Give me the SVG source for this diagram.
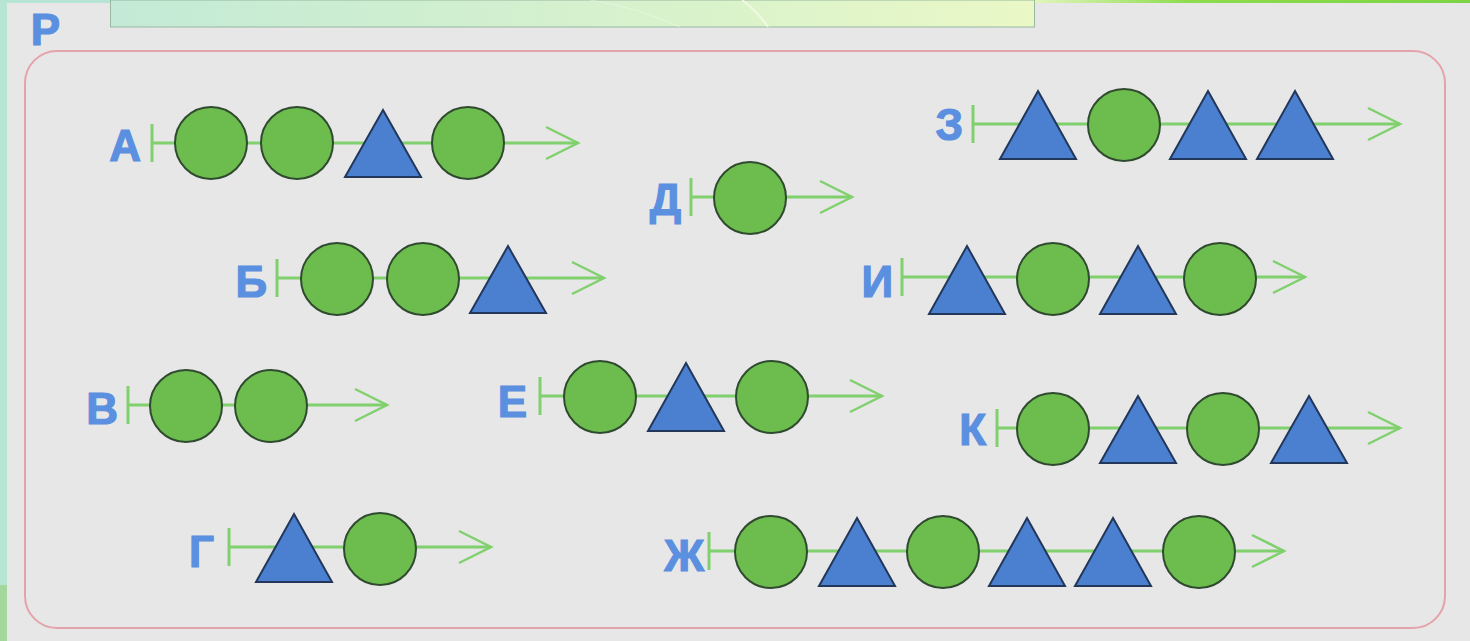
<svg xmlns="http://www.w3.org/2000/svg" width="1470" height="641" viewBox="0 0 1470 641">
<defs>
<linearGradient id="hdr" x1="0" y1="0" x2="1" y2="0">
<stop offset="0" stop-color="#c3ead6"/>
<stop offset="0.6" stop-color="#d8f2cc"/>
<stop offset="1" stop-color="#eaf8c6"/>
</linearGradient>
<linearGradient id="topr" x1="0" y1="0" x2="1" y2="0">
<stop offset="0" stop-color="#e0f5bc"/>
<stop offset="0.35" stop-color="#8edc4e"/>
<stop offset="1" stop-color="#7cd444"/>
</linearGradient>
<marker id="arrow" markerUnits="userSpaceOnUse" markerWidth="40" markerHeight="40" refX="32" refY="16" orient="auto" overflow="visible">
<path d="M0,0 L32,16 L0,32" fill="none" stroke="#80d06e" stroke-width="2.5"/>
</marker>
<marker id="tick" markerUnits="userSpaceOnUse" markerWidth="6" markerHeight="40" refX="1.5" refY="19" orient="auto" overflow="visible">
<path d="M1.5,0 V38" fill="none" stroke="#80d06e" stroke-width="3"/>
</marker>
</defs>
<style>
.lbl{font-family:"Liberation Sans",Arial,sans-serif;font-weight:bold;font-size:44px;fill:#5b8fe0;stroke:#5b8fe0;stroke-width:1.2;text-anchor:end}
.c{fill:#6dbd4e;stroke:#2f4a2f;stroke-width:2}
.t{fill:#4b7fcf;stroke:#22375a;stroke-width:2;stroke-linejoin:miter}
.ax{fill:none;stroke:#80d06e;stroke-width:3;marker-start:url(#tick);marker-end:url(#arrow)}
</style>
<!-- background -->
<rect x="0" y="0" width="1470" height="641" fill="#b6e6d3"/>
<rect x="0" y="585" width="8" height="56" fill="#a3d79c"/>
<rect x="1035" y="0" width="435" height="3" fill="url(#topr)"/>
<rect x="7" y="3" width="1463" height="638" fill="#e7e7e7"/>
<rect x="110.5" y="0" width="924" height="27" fill="url(#hdr)" stroke="#98b8a0" stroke-width="1"/>
<path d="M742,0 Q758,12 768,27" fill="none" stroke="#f4fbe8" stroke-width="2" opacity="0.8"/>
<path d="M590,0 Q640,8 680,27" fill="none" stroke="#f4fbe8" stroke-width="1" opacity="0.5"/>
<text class="lbl" x="60" y="45">Р</text>
<rect x="25" y="51" width="1420" height="577" rx="32" ry="32" fill="none" stroke="#e3a3aa" stroke-width="2"/>

<g id="connectors">
<path class="ax" d="M152,143 H578"/>
<path class="ax" d="M277,278 H604"/>
<path class="ax" d="M128,405 H387"/>
<path class="ax" d="M229,547 H491"/>
<path class="ax" d="M691,197 H852"/>
<path class="ax" d="M540,396 H882"/>
<path class="ax" d="M709,551 H1284"/>
<path class="ax" d="M973,124 H1400"/>
<path class="ax" d="M902,277 H1305"/>
<path class="ax" d="M997,428 H1400"/>
</g>

<g id="row-A">
<text class="lbl" x="141" y="161">А</text>
<circle class="c" cx="211" cy="143" r="36"/>
<circle class="c" cx="297" cy="143" r="36"/>
<polygon class="t" points="383,110 421,177 345,177"/>
<circle class="c" cx="468" cy="143" r="36"/>
</g>

<g id="row-B">
<text class="lbl" x="267" y="297">Б</text>
<circle class="c" cx="337" cy="279" r="36"/>
<circle class="c" cx="423" cy="279" r="36"/>
<polygon class="t" points="508,246 546,313 470,313"/>
</g>

<g id="row-V">
<text class="lbl" x="118" y="424">В</text>
<circle class="c" cx="186" cy="406" r="36"/>
<circle class="c" cx="271" cy="406" r="36"/>
</g>

<g id="row-G">
<text class="lbl" x="214" y="567">Г</text>
<polygon class="t" points="294,514 332,582 256,582"/>
<circle class="c" cx="380" cy="549" r="36"/>
</g>

<g id="row-D">
<text class="lbl" x="681" y="215">Д</text>
<circle class="c" cx="750" cy="198" r="36"/>
</g>

<g id="row-E">
<text class="lbl" x="527" y="417">Е</text>
<circle class="c" cx="600" cy="397" r="36"/>
<polygon class="t" points="686,363 724,431 648,431"/>
<circle class="c" cx="772" cy="397" r="36"/>
</g>

<g id="row-Zh">
<text class="lbl" x="704" y="571">Ж</text>
<circle class="c" cx="771" cy="552" r="36"/>
<polygon class="t" points="857,518 895,586 819,586"/>
<circle class="c" cx="943" cy="552" r="36"/>
<polygon class="t" points="1027,518 1065,586 989,586"/>
<polygon class="t" points="1113,518 1151,586 1075,586"/>
<circle class="c" cx="1199" cy="552" r="36"/>
</g>

<g id="row-Z">
<text class="lbl" x="963" y="140">З</text>
<polygon class="t" points="1038,91 1076,159 1000,159"/>
<circle class="c" cx="1124" cy="125" r="36"/>
<polygon class="t" points="1208,91 1246,159 1170,159"/>
<polygon class="t" points="1295,91 1333,159 1257,159"/>
</g>

<g id="row-I">
<text class="lbl" x="893" y="297">И</text>
<polygon class="t" points="967,246 1005,314 929,314"/>
<circle class="c" cx="1053" cy="279" r="36"/>
<polygon class="t" points="1138,246 1176,314 1100,314"/>
<circle class="c" cx="1220" cy="279" r="36"/>
</g>

<g id="row-K">
<text class="lbl" x="986" y="445">К</text>
<circle class="c" cx="1053" cy="429" r="36"/>
<polygon class="t" points="1138,396 1176,463 1100,463"/>
<circle class="c" cx="1223" cy="429" r="36"/>
<polygon class="t" points="1309,396 1347,463 1271,463"/>
</g>
</svg>
